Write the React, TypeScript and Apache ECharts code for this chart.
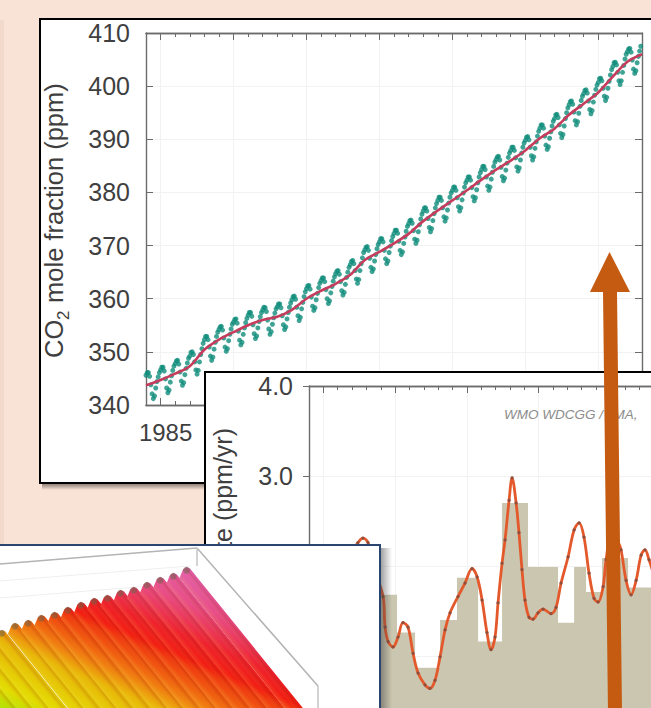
import React, { useEffect, useRef } from "react";
import * as echarts from "echarts";

// ---------- CO2 mole fraction panel ----------
const co2Years = [1984,1985,1986,1987,1988,1989,1990,1991,1992,1993,1994,1995,1996,1997,1998,1999,2000,2001,2002,2003,2004,2005,2006,2007,2008,2009,2010,2011,2012,2013,2014,2015,2016,2017,2018];
const co2Trend = [343.7,344.7,345.9,347.3,350.4,352.3,353.7,355.0,356.0,356.6,357.9,360.0,361.5,362.8,364.5,367.3,368.8,370.4,372.2,374.6,376.6,378.5,380.4,382.4,384.3,386.0,387.9,390.2,392.0,394.6,396.7,398.8,401.8,404.6,406.0];
const co2Monthly = [
  [345.6,346.1,346.1,345.4,343.8,342.1,341.2,341.7,343.2,344.4,345.3,346.1],
  [346.6,347.1,347.1,346.4,344.9,343.2,342.3,342.8,344.3,345.5,346.5,347.3],
  [347.8,348.3,348.4,347.7,346.2,344.5,343.7,344.2,345.7,346.9,347.9,348.8],
  [349.2,349.9,350.0,349.5,348.1,346.6,345.8,346.5,348.1,349.5,350.6,351.6],
  [352.3,352.9,352.9,352.3,350.9,349.2,348.4,349.0,350.5,351.8,352.9,353.7],
  [354.2,354.7,354.8,354.1,352.6,350.9,350.1,350.6,352.1,353.3,354.3,355.2],
  [355.6,356.1,356.2,355.4,353.9,352.2,351.3,351.8,353.3,354.5,355.5,356.3],
  [356.9,357.4,357.4,356.7,355.1,353.4,352.5,353.0,354.5,355.7,356.6,357.4],
  [357.9,358.4,358.3,357.6,356.0,354.3,353.3,353.8,355.2,356.4,357.3,358.1],
  [358.5,359.0,359.0,358.3,356.8,355.1,354.2,354.7,356.2,357.4,358.4,359.2],
  [359.8,360.4,360.5,359.9,358.4,356.8,355.9,356.5,358.1,359.3,360.4,361.3],
  [361.9,362.4,362.5,361.8,360.3,358.6,357.8,358.3,359.8,361.0,362.1,362.9],
  [363.4,363.9,363.9,363.2,361.7,360.0,359.1,359.6,361.1,362.3,363.3,364.1],
  [364.7,365.2,365.3,364.6,363.2,361.5,360.7,361.2,362.7,364.0,365.0,365.9],
  [366.4,367.0,367.2,366.6,365.3,363.7,362.9,363.6,365.3,366.6,367.7,368.7],
  [369.2,369.7,369.8,369.1,367.6,365.9,365.1,365.6,367.1,368.3,369.4,370.2],
  [370.7,371.3,371.3,370.7,369.1,367.5,366.6,367.1,368.7,369.9,370.9,371.7],
  [372.3,372.9,372.9,372.3,370.8,369.1,368.3,368.8,370.4,371.6,372.7,373.6],
  [374.1,374.7,374.8,374.2,372.8,371.2,370.4,371.0,372.6,373.9,375.0,375.9],
  [376.5,377.1,377.1,376.5,375.1,373.4,372.6,373.2,374.7,376.0,377.1,377.9],
  [378.5,379.1,379.1,378.5,377.1,375.4,374.6,375.2,376.7,378.0,379.1,379.9],
  [380.4,381.0,381.0,380.4,379.0,377.3,376.5,377.1,378.6,379.9,381.0,381.8],
  [382.3,382.9,382.9,382.3,380.9,379.2,378.4,379.0,380.5,381.8,382.9,383.7],
  [384.3,384.9,384.9,384.3,382.9,381.2,380.4,381.0,382.5,383.8,384.9,385.7],
  [386.2,386.7,386.8,386.1,384.7,383.0,382.2,382.7,384.2,385.5,386.6,387.4],
  [387.9,388.5,388.5,387.9,386.5,384.8,384.0,384.6,386.1,387.4,388.5,389.3],
  [389.8,390.4,390.5,389.9,388.5,386.9,386.1,386.7,388.3,389.5,390.6,391.5],
  [392.1,392.7,392.7,392.1,390.6,388.9,388.1,388.6,390.2,391.4,392.5,393.4],
  [393.9,394.6,394.7,394.1,392.7,391.1,390.3,390.9,392.5,393.9,395.0,395.9],
  [396.5,397.1,397.2,396.6,395.1,393.5,392.7,393.3,394.9,396.2,397.3,398.1],
  [398.6,399.2,399.3,398.7,397.2,395.6,394.8,395.4,397.0,398.3,399.4,400.2],
  [400.7,401.4,401.5,401.0,399.6,398.1,397.3,397.9,399.6,400.9,402.1,403.1],
  [403.7,404.4,404.5,404.0,402.6,401.0,400.3,401.0,402.6,403.9,405.1,406.0],
  [406.5,407.0,407.1,406.4,404.9,403.2,402.4,402.9,404.4,405.6,406.6,407.5],
];

const majorYears = [1985,1990,1995,2000,2005,2010,2015];
const minorYears = co2Years;
const co2LabelYears = [1985];

// ---------- growth rate panel ----------
const rateLineYears = [1984.00,1984.77,1986.16,1987.00,1987.41,1987.76,1988.11,1988.60,1989.16,1989.30,1989.51,1989.85,1990.20,1990.55,1990.90,1991.25,1991.60,1992.08,1992.43,1992.78,1993.13,1993.48,1993.83,1994.38,1994.87,1995.36,1995.71,1996.06,1996.40,1996.68,1996.96,1997.17,1997.45,1997.66,1997.94,1998.15,1998.43,1998.63,1998.84,1999.05,1999.33,1999.61,1999.96,2000.31,2000.86,2001.21,2001.56,2002.05,2002.47,2002.82,2003.16,2003.51,2003.86,2004.14,2004.49,2004.70,2005.11,2005.53,2005.74,2006.09,2006.44,2006.79,2007.14,2007.41,2007.69,2007.97];
const rateLineValues = [1.51,1.73,1.95,2.16,2.26,2.31,2.26,1.95,1.66,1.32,1.16,1.10,1.21,1.37,1.32,1.03,0.81,0.68,0.64,0.73,0.99,1.29,1.48,1.66,1.81,1.97,1.88,1.62,1.26,1.07,1.21,1.59,2.03,2.29,2.73,2.98,2.70,2.37,1.96,1.62,1.43,1.41,1.48,1.52,1.47,1.54,1.81,2.10,2.40,2.48,2.32,1.92,1.64,1.60,1.77,2.07,2.40,2.27,2.18,1.84,1.68,1.84,2.12,2.18,2.07,1.93];
const rateBarEdges = [1984.0,1986.0,1987.3,1989.02,1990.13,1991.39,1993.13,1994.31,1995.78,1997.45,1999.26,2001.35,2002.47,2003.30,2004.42,2006.23,2007.9];
const rateBarValues = [1.5,1.2,2.1,1.68,1.26,0.87,1.40,1.87,1.16,2.70,1.99,1.37,1.99,1.71,2.09,1.76,1.76];
const rateYLabels = [3, 4];

// ---------- 3D surface panel: crest heights of the seasonal ridges ----------
const surfaceCrests = [13,18,22,26,30,37,40,45,48,53,58,62,65,70,73,78,83,87,93];

const AXIS = "#6b6b6b";
const FONT = "Liberation Sans, Arial, Helvetica, sans-serif";
const TEXT = "#3f3f3f";
const GRIDC = "#f2f2f2";

function xAx(grid: number, position: string, values: number[], length: number, z: number, extra: any = {}) {
  return {
    type: "value", gridIndex: grid, min: 1984, max: 2018, position, z,
    axisLine: { show: true, onZero: false, lineStyle: { color: AXIS, width: 1.4 } },
    axisTick: { show: true, inside: true, length, customValues: values, lineStyle: { color: AXIS, width: 1 } },
    axisLabel: { show: false },
    splitLine: { show: false },
    ...extra,
  };
}

const DIR = { x: 0.629, y: 0.777 };
const NORM = { x: 0.777, y: -0.629 };

function renderRidge(_p: any, api: any) {
  const p = api.coord([api.value(0), api.value(1)]);
  const k = 190;
  const L = [p[0] - 7, p[1] + 11];
  const R = [p[0] + 9.5, p[1] + 9];
  const pts = [
    L,
    [p[0] - 3.5, p[1] + 2.5],
    [p[0], p[1]],
    [p[0] + 3.5, p[1] + 1.5],
    R,
    [R[0] + DIR.x * k, R[1] + DIR.y * k],
    [L[0] + DIR.x * k, L[1] + DIR.y * k],
  ];
  const heat = {
    type: "linear", global: true, x: 164, y: 556, x2: 84.6, y2: 745.3,
    colorStops: [
      { offset: 0, color: "#e264b4" },
      { offset: 0.17, color: "#e84a86" },
      { offset: 0.32, color: "#ee1f2c" },
      { offset: 0.415, color: "#f21c12" },
      { offset: 0.45, color: "#f03a10" },
      { offset: 0.54, color: "#f0600f" },
      { offset: 0.605, color: "#f08010" },
      { offset: 0.693, color: "#e8b808" },
      { offset: 0.898, color: "#e2dc00" },
      { offset: 1, color: "#a8e400" },
    ],
  };
  const shade = {
    type: "linear", global: true,
    x: L[0], y: L[1], x2: L[0] + NORM.x * 13.2, y2: L[1] + NORM.y * 13.2,
    colorStops: [
      { offset: 0, color: "rgba(255,235,120,0.16)" },
      { offset: 0.45, color: "rgba(255,200,80,0)" },
      { offset: 0.85, color: "rgba(150,30,0,0.18)" },
      { offset: 1, color: "rgba(150,30,0,0.06)" },
    ],
  };
  return {
    type: "group",
    children: [
      { type: "polygon", shape: { points: pts }, style: { fill: heat } },
      { type: "polygon", shape: { points: pts }, style: { fill: shade } },
      { type: "circle", shape: { cx: p[0], cy: p[1] + 3.2, r: 3.4 }, style: { fill: "rgba(105,100,75,0.5)" } },
    ],
  };
}

function buildOption(): any {
  const teal: number[][] = [];
  co2Monthly.forEach((row, i) => row.forEach((v, m) => teal.push([co2Years[i] + m / 12, v])));
  const red = co2Years.map((y, i) => [y, co2Trend[i]]);
  const rateLine = rateLineYears.map((y, i) => [y, rateLineValues[i]]);
  const rateBars = rateBarEdges.map((y, i) => [y, rateBarValues[i]]);
  const crests = surfaceCrests.map((h, i) => [i, h]);

  const graphic: any[] = [
    { type: "rect", z: 0, shape: { x: 0, y: 20, width: 4, height: 690 }, style: { fill: "#f1dacc" } },
    // panel 1 frame
    { type: "rect", z: 0, shape: { x: 42, y: 484, width: 170, height: 6 },
      style: { fill: { type: "linear", x: 0, y: 0, x2: 0, y2: 1, colorStops: [{ offset: 0, color: "rgba(60,50,45,0.55)" }, { offset: 1, color: "rgba(60,50,45,0)" }] } } },
    { type: "rect", z: 1, shape: { x: 40, y: 19, width: 700, height: 464 }, style: { fill: "#fff", stroke: "#000", lineWidth: 2 } },
    { type: "group", x: 54, y: 358, rotation: Math.PI / 2, children: [
      { type: "text", z: 3, x: 0, y: 0, style: { text: "CO", fontSize: 25.5, fontFamily: FONT, fill: TEXT, verticalAlign: "middle" } },
      { type: "text", z: 3, x: 38, y: 9, style: { text: "2", fontSize: 17, fontFamily: FONT, fill: TEXT, verticalAlign: "middle" } },
      { type: "text", z: 3, x: 48, y: 0, style: { text: " mole fraction (ppm)", fontSize: 25.5, fontFamily: FONT, fill: TEXT, verticalAlign: "middle" } },
    ] },
    // panel 2 frame
    { type: "rect", z: 10, shape: { x: 205, y: 372, width: 600, height: 500 }, style: { fill: "#fff", stroke: "#000", lineWidth: 2 } },
    { type: "group", x: 223, y: 428, rotation: Math.PI / 2, children: [
      { type: "text", z: 14, x: 0, y: 0, style: { text: "Growth rate (ppm/yr)", fontSize: 25, fontFamily: FONT, fill: TEXT, align: "right", verticalAlign: "middle" } },
    ] },
    { type: "text", z: 14, x: 504, y: 414, style: { text: "WMO WDCGG / JMA,", fontSize: 13.5, fontStyle: "italic", fontFamily: FONT, fill: "#8c8c8c", verticalAlign: "middle" } },
    // panel 3 frame
    { type: "rect", z: 19, shape: { x: 381, y: 548, width: 11, height: 170 },
      style: { fill: { type: "linear", x: 0, y: 0, x2: 1, y2: 0, colorStops: [{ offset: 0, color: "rgba(70,70,70,0.5)" }, { offset: 1, color: "rgba(70,70,70,0)" }] } } },
    { type: "rect", z: 20, shape: { x: -10, y: 545, width: 390, height: 200 }, style: { fill: "#fff", stroke: "#2a4570", lineWidth: 2 } },
    { type: "line", z: 20, shape: { x1: 0, y1: 581, x2: 190, y2: 566 }, style: { stroke: "#efefef", lineWidth: 1 } },
    { type: "line", z: 20, shape: { x1: 0, y1: 598, x2: 150, y2: 586 }, style: { stroke: "#efefef", lineWidth: 1 } },
    { type: "line", z: 20, shape: { x1: 0, y1: 564, x2: 197, y2: 548 }, style: { stroke: "#b4b4b4", lineWidth: 1.5 } },
    { type: "line", z: 20, shape: { x1: 197, y1: 548, x2: 318, y2: 686 }, style: { stroke: "#b4b4b4", lineWidth: 1.5 } },
    { type: "line", z: 20, shape: { x1: 197, y1: 548, x2: 197, y2: 566 }, style: { stroke: "#c4c4c4", lineWidth: 1.5 } },
    { type: "line", z: 20, shape: { x1: 318, y1: 686, x2: 318, y2: 710 }, style: { stroke: "#c4c4c4", lineWidth: 1.5 } },
    // arrow
    { type: "polygon", z: 30, shape: { points: [[608, 712], [622, 712], [617, 292], [630, 292], [609.5, 252], [590, 292], [603, 292]] }, style: { fill: "#c55a11" } },
  ];

  return {
    animation: false,
    backgroundColor: "#f9e3d6",
    graphic: { elements: graphic },
    grid: [
      { left: 146, top: 33, width: 496, height: 372, outerBoundsMode: "none" },
      { left: 309, top: 386, width: 488, height: 360, outerBoundsMode: "none" },
      { left: -51.1, top: 560, width: 237.6, height: 100, outerBoundsMode: "none" },
    ],
    xAxis: [
      xAx(0, "bottom", majorYears, 7, 2, {
        splitLine: { show: true, lineStyle: { color: GRIDC, width: 1 } },
        axisLabel: {
          show: true, customValues: co2LabelYears, color: TEXT, fontSize: 24, fontFamily: FONT,
          margin: 15, padding: [0, 0, 0, 10], hideOverlap: false,
          formatter: (v: number) => String(v),
        },
      }),
      xAx(0, "bottom", minorYears, 4, 2),
      xAx(0, "top", majorYears, 7, 2),
      xAx(0, "top", minorYears, 4, 2),
      xAx(1, "top", majorYears, 7, 11, { splitLine: { show: true, lineStyle: { color: GRIDC, width: 1 } } }),
      xAx(1, "top", minorYears, 4, 11),
      { type: "value", gridIndex: 2, min: 0, max: 18, show: false },
    ],
    yAxis: [
      {
        type: "value", gridIndex: 0, min: 340, max: 410, interval: 10, position: "left", z: 2,
        axisLine: { show: true, onZero: false, lineStyle: { color: AXIS, width: 1.4 } },
        axisTick: { show: true, inside: true, length: 7, lineStyle: { color: AXIS, width: 1 } },
        axisLabel: { color: TEXT, fontSize: 25, fontFamily: FONT, margin: 16, showMinLabel: true, showMaxLabel: true },
        splitLine: { show: true, lineStyle: { color: GRIDC, width: 1 } },
      },
      {
        type: "value", gridIndex: 0, min: 340, max: 410, interval: 10, position: "right", z: 2,
        axisLine: { show: true, onZero: false, lineStyle: { color: AXIS, width: 1.4 } },
        axisTick: { show: true, inside: true, length: 7, lineStyle: { color: AXIS, width: 1 } },
        axisLabel: { show: false }, splitLine: { show: false },
      },
      {
        type: "value", gridIndex: 1, min: 0, max: 4, interval: 1, position: "left", z: 11,
        axisLine: { show: true, onZero: false, lineStyle: { color: AXIS, width: 1.4 } },
        axisTick: { show: true, inside: false, length: 6, lineStyle: { color: AXIS, width: 1 } },
        axisLabel: { show: true, customValues: rateYLabels, color: TEXT, fontSize: 25, fontFamily: FONT, margin: 16, formatter: (v: number) => v.toFixed(1) },
        splitLine: { show: true, lineStyle: { color: GRIDC, width: 1 } },
      },
      { type: "value", gridIndex: 2, min: 0, max: 100, show: false },
    ],
    series: [
      {
        type: "scatter", name: "CO2 monthly", xAxisIndex: 0, yAxisIndex: 0, z: 3, data: teal,
        symbol: "circle", symbolSize: 5, itemStyle: { color: "#0f8c7a" }, silent: true,
      },
      {
        type: "line", name: "CO2 trend", xAxisIndex: 0, yAxisIndex: 0, z: 4, data: red, smooth: 0.3,
        showSymbol: false, lineStyle: { color: "#c63c5c", width: 2.6 }, silent: true,
      },
      {
        type: "line", name: "Annual growth", xAxisIndex: 4, yAxisIndex: 2, z: 12, data: rateBars, step: "end",
        showSymbol: false, lineStyle: { width: 0 }, areaStyle: { color: "#cbc6af", opacity: 1 }, silent: true,
      },
      {
        type: "line", name: "Growth rate", xAxisIndex: 4, yAxisIndex: 2, z: 13, data: rateLine, smooth: 0.35,
        showSymbol: true, showAllSymbol: true, symbol: "circle", symbolSize: 3.2,
        itemStyle: { color: "#8f4f3c" }, lineStyle: { color: "#e4592b", width: 2.8 }, silent: true,
      },
      {
        type: "custom", name: "Surface", xAxisIndex: 6, yAxisIndex: 3, z: 21, data: crests, renderItem: renderRidge, silent: true, clip: false,
      },
    ],
  };
}

export default function App() {
  const ref = useRef<HTMLDivElement>(null);
  useEffect(() => {
    document.body.style.margin = "0";
    const chart = echarts.init(ref.current!, undefined, { renderer: "svg" });
    chart.setOption(buildOption());
    return () => chart.dispose();
  }, []);
  return <div ref={ref} style={{ width: 651, height: 708, overflow: "hidden" }} />;
}
